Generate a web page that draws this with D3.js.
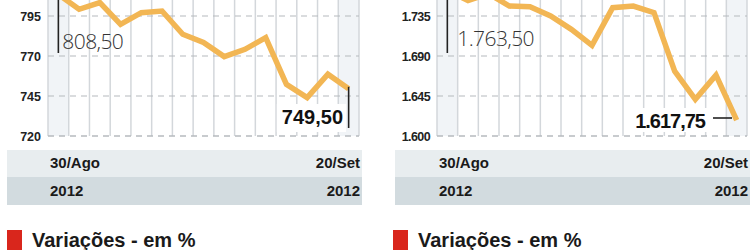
<!DOCTYPE html>
<html>
<head>
<meta charset="utf-8">
<script src="https://cdn.jsdelivr.net/npm/d3@7"></script>
<style>
  html, body { margin: 0; padding: 0; background: #fff; }
  svg { display: block; }
</style>
</head>
<body>
<svg id="chart" width="750" height="250"></svg>
<script>
// ---- Data ----
const dates = ["30/Ago","31/Ago","04/Set","05/Set","06/Set","07/Set","10/Set","11/Set","12/Set","13/Set","14/Set","17/Set","18/Set","19/Set","20/Set"];
const leftValues  = [808.50, 799.2, 803.4, 789.8, 797.1, 798.1, 783.6, 778.4, 769.6, 774.2, 781.5, 752.3, 744.0, 758.6, 749.50];
const rightValues = [1763.50, 1752.5, 1760.0, 1746.2, 1745.5, 1735.0, 1720.0, 1702.0, 1744.4, 1746.2, 1738.8, 1673.0, 1641.3, 1668.5, 1617.75];
const leftTicks  = [720, 745, 770, 795];
const rightTicks = [1600, 1645, 1690, 1735];
const leftDomain  = [720, 795];
const rightDomain = [1600, 1735];
const startLabel = "30/Ago";
const endLabel   = "20/Set";
const yearLabel  = "2012";
const legendTitle = "Variações - em %";

const ptBR = d3.formatLocale({decimal: ",", thousands: ".", grouping: [3], currency: ["R$", ""]});
const fmtTick = ptBR.format(",d");
const fmtVal  = ptBR.format(",.2f");

const svg = d3.select("#chart");
const LINE = "#f2b654";

function panel(o) {
  const g = svg.append("g");
  const x = d3.scalePoint().domain(dates).range([o.x0, o.x1]).padding(0.5);
  const step = x.step();
  const y = d3.scaleLinear().domain(o.domain).range([136, 16]);
  const vals = o.values;

  // shaded first / last columns
  [dates[0], dates[dates.length - 1]].forEach(d => {
    g.append("rect").attr("x", x(d) - step / 2).attr("y", 0)
      .attr("width", step).attr("height", 136).attr("fill", "#f1f4f7");
  });

  // vertical grid at column boundaries
  const bounds = dates.map(d => x(d) - step / 2).concat([x(dates[dates.length - 1]) + step / 2]);
  g.selectAll(".vg").data(bounds).join("line")
    .attr("x1", d => d).attr("x2", d => d).attr("y1", 0).attr("y2", 136)
    .attr("stroke", "#d3d7db").attr("stroke-width", 1.5);

  // horizontal dashed grid
  g.selectAll(".hg").data(o.ticks).join("line")
    .attr("x1", o.x0).attr("x2", o.x1).attr("y1", d => y(d)).attr("y2", d => y(d))
    .attr("stroke", "#b5b9bd").attr("stroke-width", 1.2).attr("stroke-dasharray", "6,5");

  // y tick labels
  g.selectAll(".tl").data(o.ticks).join("text")
    .attr("x", o.x0 - 7).attr("y", d => y(d)).attr("dy", "0.36em")
    .attr("text-anchor", "end")
    .attr("font-family", "'Liberation Sans', Arial, sans-serif")
    .attr("font-weight", "bold").attr("font-size", 12.5).attr("letter-spacing", o.tickSpacing)
    .attr("fill", "#222").text(d => fmtTick(d));

  // line
  const line = d3.line().x((d, i) => x(dates[i])).y(d => y(d));
  g.append("path").datum(vals).attr("d", line)
    .attr("fill", "none").attr("stroke", LINE).attr("stroke-width", 5.5)
    .attr("stroke-linejoin", "miter");

  // start annotation
  const first = vals[0];
  g.append("line").attr("x1", x(dates[0])).attr("x2", x(dates[0]))
    .attr("y1", 0).attr("y2", 53).attr("stroke", "#222").attr("stroke-width", 1.6);
  g.append("text").attr("x", x(dates[0]) + o.startDx).attr("y", o.startY)
    .attr("font-family", "'Open Sans', sans-serif").attr("font-weight", 300)
    .attr("font-size", 21).attr("letter-spacing", -0.6).attr("fill", "#333").text(fmtVal(first));

  // end annotation
  const lastI = dates.length - 1;
  const last = vals[lastI];
  const t = g.append("text").attr("x", o.endX).attr("y", o.endY)
    .attr("text-anchor", "end")
    .attr("font-family", "'Liberation Sans', Arial, sans-serif").attr("font-weight", "bold")
    .attr("font-size", 20).attr("letter-spacing", o.endSpacing).attr("fill", "#111").text(fmtVal(last));
  const bb = t.node().getBBox();
  g.insert("rect", "text:last-of-type")
    .attr("x", bb.x - 5).attr("y", bb.y - 2).attr("width", bb.width + 8).attr("height", 134 - bb.y)
    .attr("fill", "#fff");
  t.raise();
  if (o.endMarker === "vertical") {
    g.append("line").attr("x1", x(dates[lastI])).attr("x2", x(dates[lastI]))
      .attr("y1", y(last) - 2).attr("y2", 128).attr("stroke", "#222").attr("stroke-width", 1.6);
  } else {
    g.append("line").attr("x1", o.endX + 8).attr("x2", o.endX + 27)
      .attr("y1", 118).attr("y2", 118).attr("stroke", "#222").attr("stroke-width", 1.6);
  }

  // bottom dashed baseline
  g.append("line").attr("x1", o.x0).attr("x2", o.x1).attr("y1", 136).attr("y2", 136)
    .attr("stroke", "#b5b9bd").attr("stroke-width", 1.2).attr("stroke-dasharray", "6,5");

  // date band
  g.append("rect").attr("x", o.bandX0).attr("y", 150).attr("width", o.bandX1 - o.bandX0)
    .attr("height", 27).attr("fill", "#e8edef");
  g.append("rect").attr("x", o.bandX0).attr("y", 177).attr("width", o.bandX1 - o.bandX0)
    .attr("height", 28).attr("fill", "#d2dbdf");
  const bandFont = (sel) => sel.attr("font-family", "'Liberation Sans', Arial, sans-serif")
    .attr("font-weight", "bold").attr("font-size", 15).attr("fill", "#1a1a1a");
  g.append("text").attr("x", o.x0 + 2).attr("y", 168).text(startLabel).call(bandFont);
  g.append("text").attr("x", o.x1 + 1).attr("y", 168).attr("text-anchor", "end").text(endLabel).call(bandFont);
  g.append("text").attr("x", o.x0 + 2).attr("y", 196).text(yearLabel).call(bandFont);
  g.append("text").attr("x", o.x1 + 1).attr("y", 196).attr("text-anchor", "end").text(yearLabel).call(bandFont);

  // legend title
  g.append("rect").attr("x", o.legX).attr("y", 230).attr("width", 15).attr("height", 22).attr("fill", "#d9261c");
  g.append("text").attr("x", o.legX + 25).attr("y", 247)
    .attr("font-family", "'Liberation Sans', Arial, sans-serif").attr("font-weight", "bold")
    .attr("font-size", 20).attr("fill", "#1a1a1a").text(legendTitle);
}

panel({x0: 48, x1: 359, domain: leftDomain, ticks: leftTicks, values: leftValues,
  tickSpacing: 0, startDx: 4, startY: 49, endX: 343, endY: 124, endSpacing: 0,
  endMarker: "vertical", bandX0: 7, bandX1: 362, legX: 7});
panel({x0: 437, x1: 747, domain: rightDomain, ticks: rightTicks, values: rightValues,
  tickSpacing: -0.6, startDx: 10, startY: 46, endX: 705, endY: 128, endSpacing: -1,
  endMarker: "horizontal", bandX0: 395, bandX1: 750, legX: 393});
</script>
</body>
</html>
